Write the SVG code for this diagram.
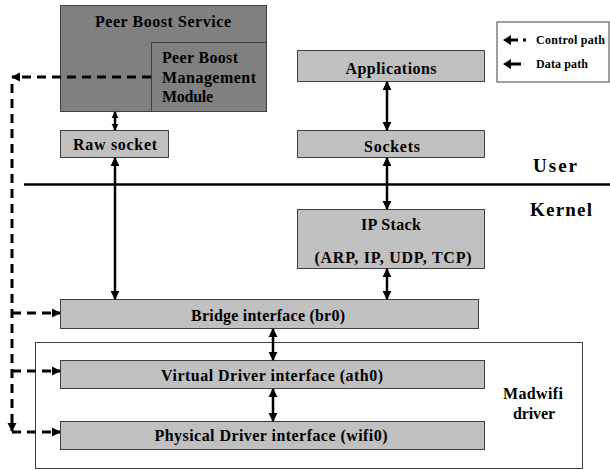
<svg xmlns="http://www.w3.org/2000/svg" width="610" height="470" viewBox="0 0 610 470">
  <style>
    .box { fill: #c0c0c0; stroke: #404040; stroke-width: 1; }
    .dark { fill: #808080; stroke: #404040; stroke-width: 1; }
    .frame { fill: #ffffff; stroke: #404040; stroke-width: 1; }
    .t { font-family: "Liberation Serif", "Times New Roman", serif; font-weight: bold; font-size: 16px; fill: #000; }
    .mid { text-anchor: middle; }
    .small { font-size: 12px; }
    .big { font-size: 19px; }
    .data { stroke: #000; stroke-width: 2.5; fill: none; }
    .ctrl { stroke: #000; stroke-width: 3; fill: none; stroke-dasharray: 9 6; }
  </style>
  <defs>
    <marker id="head" viewBox="0 0 10 10" refX="9" refY="5" markerWidth="9" markerHeight="10" markerUnits="userSpaceOnUse" orient="auto-start-reverse">
      <path d="M0,0 L10,5 L0,10 Z" fill="#000"/>
    </marker>
    <marker id="tip" viewBox="0 0 10 10" refX="9" refY="5" markerWidth="7" markerHeight="9" markerUnits="userSpaceOnUse" orient="auto-start-reverse">
      <path d="M0,0 L10,5 L0,10 Z" fill="#000"/>
    </marker>
  </defs>

  <rect width="610" height="470" fill="#ffffff"/>

  <!-- user / kernel divider -->
  <line x1="24" y1="184.5" x2="610" y2="184.5" stroke="#000" stroke-width="2.5"/>
  <text class="t big" x="533" y="172" textLength="44" lengthAdjust="spacing">User</text>
  <text class="t big" x="530" y="216" textLength="62" lengthAdjust="spacing">Kernel</text>

  <!-- legend -->
  <g id="legend">
    <rect class="frame" x="497" y="22" width="112" height="60"/>
    <path d="M503,40 L511,35 L511,45 Z" fill="#000"/>
    <line x1="510" y1="40" x2="518" y2="40" stroke="#000" stroke-width="3"/>
    <rect x="523" y="38.5" width="3" height="3" fill="#000"/>
    <text class="t small" x="536" y="44" textLength="69" lengthAdjust="spacing">Control path</text>
    <path d="M503,64 L511,59 L511,69 Z" fill="#000"/>
    <line x1="510" y1="64" x2="521" y2="64" stroke="#000" stroke-width="3"/>
    <text class="t small" x="536" y="68" textLength="52" lengthAdjust="spacing">Data path</text>
  </g>

  <!-- madwifi driver frame -->
  <g id="madwifi">
    <rect class="frame" x="35.5" y="342.5" width="547" height="126"/>
    <text class="t mid" x="533" y="399" textLength="60" lengthAdjust="spacing">Madwifi</text>
    <text class="t mid" x="534" y="419" textLength="42" lengthAdjust="spacing">driver</text>
  </g>

  <g id="peer-boost-service">
    <rect class="dark" x="60.5" y="5.5" width="206" height="106"/>
    <text class="t mid" x="163" y="27" textLength="136" lengthAdjust="spacing">Peer Boost Service</text>
  </g>
  <g id="peer-boost-management">
    <rect class="dark" x="151.5" y="42.5" width="115" height="69"/>
    <text class="t" x="162" y="63" textLength="76" lengthAdjust="spacing">Peer Boost</text>
    <text class="t" x="162" y="83" textLength="94" lengthAdjust="spacing">Management</text>
    <text class="t" x="162" y="102" textLength="51" lengthAdjust="spacing">Module</text>
  </g>
  <g id="raw-socket">
    <rect class="box" x="60.5" y="130.5" width="108" height="27"/>
    <text class="t mid" x="115" y="150" textLength="84" lengthAdjust="spacing">Raw socket</text>
  </g>
  <g id="applications">
    <rect class="box" x="297.5" y="50.5" width="187" height="31"/>
    <text class="t mid" x="391" y="74" textLength="91" lengthAdjust="spacing">Applications</text>
  </g>
  <g id="sockets">
    <rect class="box" x="297.5" y="130.5" width="187" height="27"/>
    <text class="t mid" x="392" y="152" textLength="56" lengthAdjust="spacing">Sockets</text>
  </g>
  <g id="ip-stack">
    <rect class="box" x="297.5" y="209.5" width="187" height="59"/>
    <text class="t mid" x="391" y="230" textLength="60" lengthAdjust="spacing">IP Stack</text>
    <text class="t mid" x="393" y="263" textLength="157" lengthAdjust="spacing">(ARP, IP, UDP, TCP)</text>
  </g>
  <g id="bridge">
    <rect class="box" x="60.5" y="299.5" width="418" height="29"/>
    <text class="t mid" x="268" y="321" textLength="154" lengthAdjust="spacing">Bridge interface (br0)</text>
  </g>
  <g id="virtual-driver">
    <rect class="box" x="60.5" y="360.5" width="424" height="28"/>
    <text class="t mid" x="272" y="381" textLength="222" lengthAdjust="spacing">Virtual Driver interface (ath0)</text>
  </g>
  <g id="physical-driver">
    <rect class="box" x="60.5" y="421.5" width="424" height="28"/>
    <text class="t mid" x="271" y="441" textLength="233" lengthAdjust="spacing">Physical Driver interface (wifi0)</text>
  </g>

  <g id="connectors">
    <!-- data paths -->
    <line class="data" x1="115" y1="112" x2="115" y2="130" marker-start="url(#tip)" marker-end="url(#tip)"/>
    <line class="data" x1="115" y1="158" x2="115" y2="299" marker-start="url(#head)" marker-end="url(#head)"/>
    <line class="data" x1="387" y1="82" x2="387" y2="130" marker-start="url(#head)" marker-end="url(#head)"/>
    <line class="data" x1="387" y1="158" x2="387" y2="209" marker-start="url(#head)" marker-end="url(#head)"/>
    <line class="data" x1="387" y1="269" x2="387" y2="299" marker-start="url(#head)" marker-end="url(#head)"/>
    <line class="data" x1="273" y1="329" x2="273" y2="360" marker-start="url(#head)" marker-end="url(#head)"/>
    <line class="data" x1="273" y1="389" x2="273" y2="421" marker-start="url(#head)" marker-end="url(#head)"/>
    <!-- control paths -->
    <path class="ctrl" d="M151,77 H12" marker-end="url(#head)"/>
    <path class="ctrl" d="M12,84 V431" marker-end="url(#head)"/>
    <path class="ctrl" d="M12,313 H60" marker-end="url(#head)"/>
    <path class="ctrl" d="M12,371 H60" marker-end="url(#head)"/>
    <path class="ctrl" d="M12,432 H60" marker-end="url(#head)"/>
  </g>
</svg>
